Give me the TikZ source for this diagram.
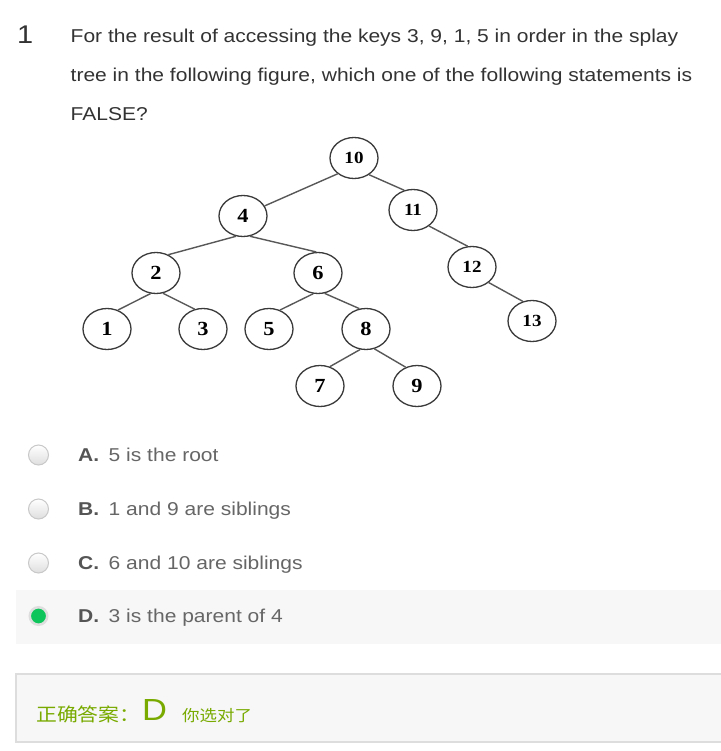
\documentclass[tikz,border=0pt]{standalone}
\usepackage{fontspec}
\setmainfont{Liberation Sans}[FakeStretch=1.13]
\newfontfamily\treefont{Liberation Serif}[FakeStretch=1.12]
\newfontfamily\cjkfont{Noto Sans CJK SC}[FakeStretch=1.12]
\usetikzlibrary{shapes.geometric}

\definecolor{qgray}{HTML}{333333}
\definecolor{optgray}{HTML}{666666}
\definecolor{lettergray}{HTML}{555555}
\definecolor{rowbg}{HTML}{F7F7F7}
\definecolor{boxline}{HTML}{DDDDDD}
\definecolor{ansgreen}{HTML}{78AA00}
\definecolor{radiogreen}{HTML}{0DC55A}
\definecolor{radioline}{HTML}{C8C8C8}
\definecolor{radiofill}{HTML}{DEDEDE}
\definecolor{treeline}{HTML}{3A3A3A}

\tikzset{
  txt/.style={anchor=base west, inner sep=0pt},
  qnum/.style={txt, text=qgray, font=\fontsize{25.6}{26}\selectfont},
  qline/.style={txt, text=qgray, font=\fontsize{18.6}{20}\selectfont},
  optletter/.style={txt, text=lettergray, font=\fontsize{18.6}{20}\selectfont\bfseries},
  opttext/.style={txt, text=optgray, font=\fontsize{18.6}{20}\selectfont},
  treenode/.style={ellipse, draw=treeline, line width=1.3pt, minimum width=48pt,
    minimum height=41pt, inner sep=0pt, font=\treefont\bfseries\fontsize{20}{20}\selectfont},
  twodigit/.style={font=\treefont\bfseries\fontsize{17}{17}\selectfont},
  edge/.style={draw=treeline!85, line width=1.4pt},
  radio/.style={circle, draw=radioline, line width=1pt, top color=white,
    bottom color=radiofill, minimum size=20pt, inner sep=0pt},
  radioon/.style={circle, draw=radiofill, line width=2.5pt, fill=radiogreen,
    minimum size=17.5pt, inner sep=0pt},
  anstext/.style={txt, text=ansgreen, font=\cjkfont\fontsize{18.6}{20}\selectfont}
}

\begin{document}
\begin{tikzpicture}[x=1pt,y=-1pt]
  \useasboundingbox[fill=white] (0,0) rectangle (720,751);

  % question
  \node[qnum] (num) at (17,43.3) {1};
  \node[qline] (q1) at (70.5,43) {For the result of accessing the keys 3, 9, 1, 5 in order in the splay};
  \node[qline] (q2) at (70.5,82) {tree in the following figure, which one of the following statements is};
  \node[qline] (q3) at (70.5,121) {FALSE?};

  % splay tree
  \node[treenode, twodigit] (n10) at (354,158) {10};
  \node[treenode, twodigit] (n11) at (413,210) {11};
  \node[treenode, twodigit] (n12) at (472,267) {12};
  \node[treenode, twodigit] (n13) at (532,321) {13};
  \node[treenode] (n4) at (243,216) {4};
  \node[treenode] (n2) at (156,273) {2};
  \node[treenode] (n6) at (318,273) {6};
  \node[treenode] (n1) at (107,329) {1};
  \node[treenode] (n3) at (203,329) {3};
  \node[treenode] (n5) at (269,329) {5};
  \node[treenode] (n8) at (366,329) {8};
  \node[treenode] (n7) at (320,386) {7};
  \node[treenode] (n9) at (417,386) {9};

  \draw[edge] (n10.-136) -- (n4.25);
  \draw[edge] (n10.-48) -- (n11.114);
  \draw[edge] (n11.-45) -- (n12.102);
  \draw[edge] (n12.-43) -- (n13.115);
  \draw[edge] (n4.-109) -- (n2.56);
  \draw[edge] (n4.-71) -- (n6.95);
  \draw[edge] (n2.-105) -- (n1.60);
  \draw[edge] (n2.-71) -- (n3.113);
  \draw[edge] (n6.-103) -- (n5.60);
  \draw[edge] (n6.-72) -- (n8.108);
  \draw[edge] (n8.-106) -- (n7.63);
  \draw[edge] (n8.-67) -- (n9.121);

  % options
  \fill[rowbg] (16,590) rectangle (730,644);
  \node[radio] (ra) at (38.5,455) {};
  \node[radio] (rb) at (38.5,509) {};
  \node[radio] (rc) at (38.5,563) {};
  \node[radioon] (rd) at (38.5,616) {};

  \node[optletter] (la) at (78,461.7) {A.};
  \node[opttext] (ta) at (108.5,461.7) {5 is the root};
  \node[optletter] (lb) at (78,515.7) {B.};
  \node[opttext] (tb) at (108.5,515.7) {1 and 9 are siblings};
  \node[optletter] (lc) at (78,569.7) {C.};
  \node[opttext] (tc) at (108.5,569.7) {6 and 10 are siblings};
  \node[optletter] (ld) at (78,622.5) {D.};
  \node[opttext] (td) at (108.5,622.5) {3 is the parent of 4};

  % answer box
  \filldraw[fill=rowbg, draw=boxline, line width=1.5pt] (16,674) rectangle (730,742);
  \node[anstext] (ans) at (36,721) {正确答案：};
  \node[txt, text=ansgreen, font=\fontsize{30.5}{31}\selectfont] (ansd) at (142,720) {D};
  \node[anstext, font=\cjkfont\fontsize{15.6}{16}\selectfont] (note) at (182,721) {你选对了};
\end{tikzpicture}
\end{document}
